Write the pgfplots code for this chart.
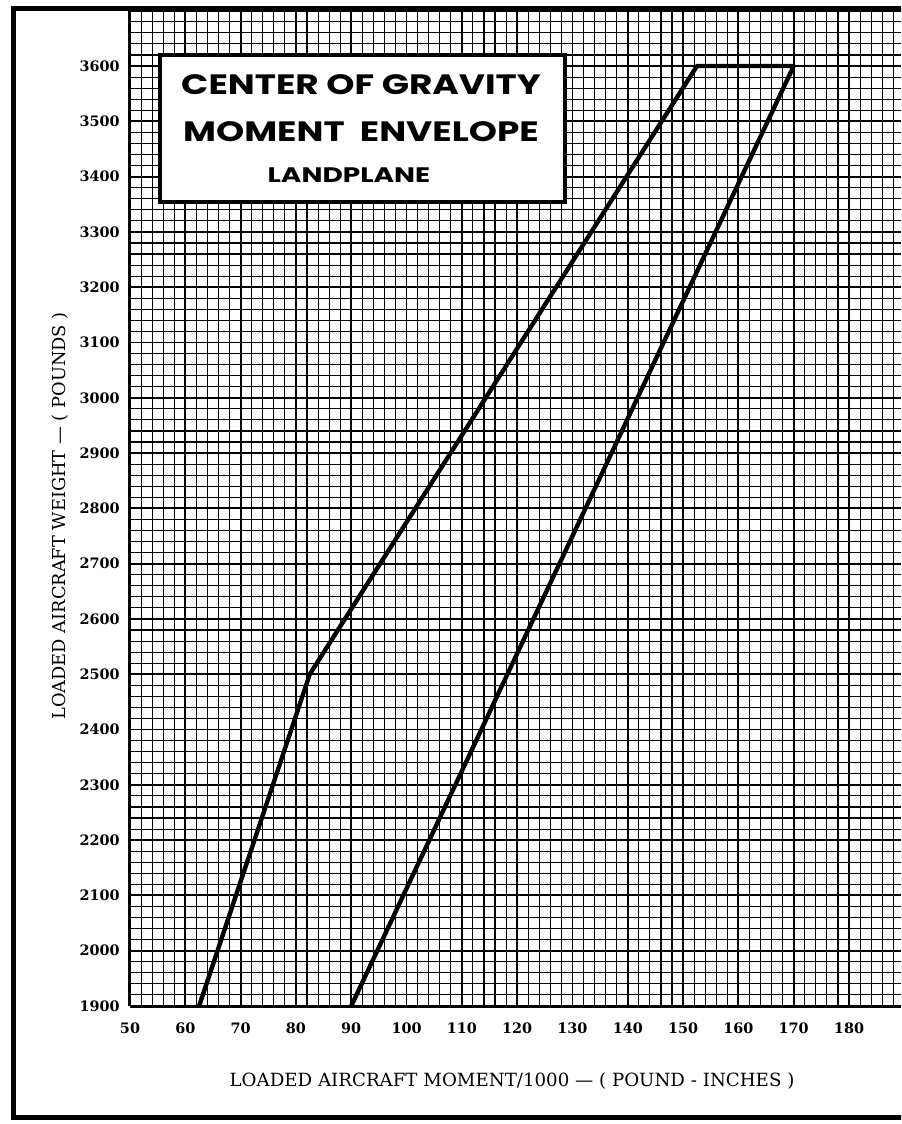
\documentclass[border=0pt]{standalone}
\usepackage{fontspec}
\setmainfont{DejaVu Serif}
\newfontfamily\titlefont{Poppins}
\usepackage{pgfplots}
\pgfplotsset{compat=1.18}
\begin{document}
\begin{tikzpicture}
\path[use as bounding box] (-65pt,-59pt) rectangle (385.5pt,503pt);
\clip (-65pt,-59pt) rectangle (385.5pt,503pt);
\fill[white] (-65pt,-59pt) rectangle (385.5pt,503pt);
\begin{axis}[
  at={(0pt,0pt)}, anchor=south west,
  scale only axis, width=385.5pt, height=499pt,
  xmin=50, xmax=189.4, ymin=1900, ymax=3705,
  axis lines=left,
  axis line style={-, line width=1.5pt},
  xtick={50,60,...,180},
  ytick={1900,2000,...,3700},
  yticklabels={1900,2000,2100,2200,2300,2400,2500,2600,2700,2800,2900,3000,3100,3200,3300,3400,3500,3600,{}},
  minor xtick={50,52,...,190},
  minor ytick={1900,1920,...,3700},
  major tick length=0pt, minor tick length=0pt,
  grid=both,
  major grid style={black, line width=0.95pt},
  minor grid style={black, line width=0.55pt},
  /pgf/number format/assume math mode=true,
  /pgf/number format/1000 sep={},
  ticklabel style={font=\fontsize{7.2}{8}\selectfont\bfseries, inner sep=0pt},
  xticklabel style={anchor=north, yshift=-8pt},
  yticklabel style={anchor=east, xshift=-5pt},
  clip=false,
]
\addplot[black, line width=2.2pt, line join=round, no markers] coordinates {
  (62.5,1900) (82.5,2500) (152.5,3600) (170,3600) (90,1900)
};
\end{axis}
\draw[line width=2.5pt] (400pt,498.5pt) -- (-58pt,498.5pt) -- (-58pt,-55.5pt) -- (400pt,-55.5pt);
\draw[line width=2pt, fill=white] (15pt,402pt) rectangle (217.5pt,475.5pt);
\node[anchor=base, inner sep=0pt] at (115.5pt,455.5pt) {\scalebox{1.28}[1]{\titlefont\bfseries\fontsize{14}{16}\selectfont CENTER OF GRAVITY}};
\node[anchor=base, inner sep=0pt] at (115.5pt,432pt) {\scalebox{1.28}[1]{\titlefont\bfseries\fontsize{14}{16}\selectfont MOMENT\ \ ENVELOPE}};
\node[anchor=base, inner sep=0pt] at (109.5pt,411.5pt) {\scalebox{1.33}[1]{\titlefont\bfseries\fontsize{10.5}{12}\selectfont LANDPLANE}};
\node[inner sep=0pt] at (191pt,-37.5pt) {\fontsize{9.1}{10}\selectfont LOADED AIRCRAFT MOMENT/1000 --- ( POUND - INCHES )};
\node[inner sep=0pt, rotate=90] at (-35pt,245pt) {\fontsize{8.9}{10}\selectfont LOADED AIRCRAFT WEIGHT --- ( POUNDS )};
\end{tikzpicture}
\end{document}
